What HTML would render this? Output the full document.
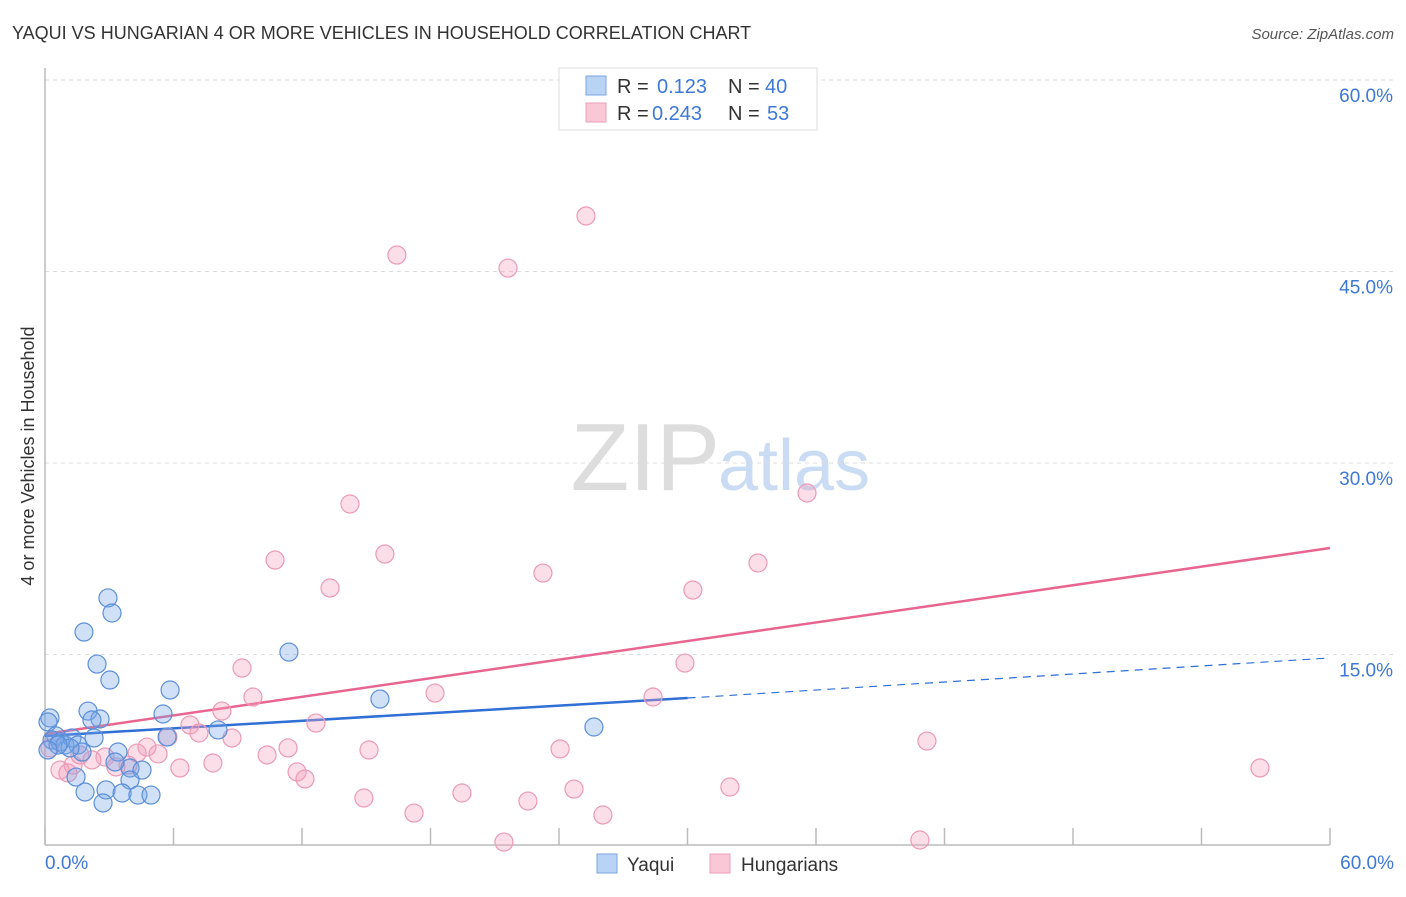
<!DOCTYPE html>
<html><head><meta charset="utf-8"><style>
body{margin:0;background:#fff;font-family:"Liberation Sans",sans-serif;}
svg text{font-family:"Liberation Sans",sans-serif;}
</style></head><body>
<svg id="chart" width="1406" height="892">
<text x="12" y="39" font-size="18" fill="#333">YAQUI VS HUNGARIAN 4 OR MORE VEHICLES IN HOUSEHOLD CORRELATION CHART</text>
<text x="1394" y="39" font-size="15" fill="#555" font-style="italic" text-anchor="end">Source: ZipAtlas.com</text>
<text x="720" y="490" font-size="96" fill="#ddd" text-anchor="end" font-family="Liberation Serif">ZIP</text>
<text x="718" y="490" font-size="72" fill="#c9dcf3">atlas</text>
<text transform="translate(34,456) rotate(-90)" font-size="18" fill="#333" text-anchor="middle">4 or more Vehicles in Household</text>
<g id="grid"></g><g id="axes"></g><g id="lines"></g><g id="points"></g>
<g>
<rect x="559" y="68" width="258" height="62" fill="#fff" stroke="#ddd"/>
<rect x="586" y="76" width="20" height="19" fill="#b9d3f5" stroke="#7aa5e0"/>
<rect x="586" y="103" width="20" height="19" fill="#f9c7d6" stroke="#ee9fb9"/>
<text x="617" y="93" font-size="20" fill="#333">R = </text><text x="657" y="93" font-size="20" fill="#3e78d6">0.123</text>
<text x="728" y="93" font-size="20" fill="#333">N = </text><text x="765" y="93" font-size="20" fill="#3e78d6">40</text>
<text x="617" y="120" font-size="20" fill="#333">R = </text><text x="652" y="120" font-size="20" fill="#3e78d6">0.243</text>
<text x="728" y="120" font-size="20" fill="#333">N = </text><text x="767" y="120" font-size="20" fill="#3e78d6">53</text>
</g>
<g>
<rect x="597" y="854" width="20" height="19" fill="#b9d3f5" stroke="#7aa5e0"/>
<text x="627" y="871" font-size="19" fill="#333">Yaqui</text>
<rect x="710" y="854" width="20" height="19" fill="#f9c7d6" stroke="#ee9fb9"/>
<text x="741" y="871" font-size="19" fill="#333">Hungarians</text>
</g>
</svg>
<script>
const yTicks=[15,30,45,60];
const xTickLabels=["0.0%","60.0%"];
const blueX=[2.94,3.13,1.82,2.43,3.03,11.39,5.84,15.64,5.51,2.01,2.57,2.19,0.23,0.14,8.08,25.63,0.51,0.33,0.70,0.93,1.26,1.54,2.29,5.70,1.73,1.17,3.41,3.97,4.53,3.27,1.45,1.87,2.85,3.97,3.60,4.34,4.95,2.71,0.61,0.14];
const blueY=[19.43,18.25,16.76,14.25,13.00,15.19,12.22,11.51,10.34,10.57,9.95,9.87,10.03,9.71,9.09,9.32,8.62,8.30,8.15,7.91,8.46,7.91,8.46,8.54,7.36,7.68,7.36,6.11,5.95,6.58,5.40,4.23,4.39,5.17,4.15,3.99,3.99,3.37,7.91,7.52];
const pinkX=[25.26,16.43,21.62,35.58,14.24,15.87,10.74,23.25,33.29,13.31,30.25,9.20,29.88,9.71,18.21,28.39,8.26,12.65,6.77,5.74,7.19,8.73,41.18,11.35,15.13,24.05,4.76,5.28,2.80,2.19,4.30,10.37,7.84,6.30,3.31,3.88,11.77,12.14,0.70,1.31,0.23,31.98,56.73,24.70,19.47,14.89,22.55,17.23,26.05,21.43,40.85,1.07,1.63];
const pinkY=[49.35,46.29,45.27,27.65,26.79,22.87,22.40,21.38,22.17,20.21,20.05,13.94,14.33,11.67,11.98,11.67,10.57,9.63,9.48,8.54,8.85,8.46,8.22,7.68,7.52,7.60,7.75,7.21,6.97,6.74,7.28,7.13,6.50,6.11,6.19,6.34,5.80,5.25,5.95,6.34,7.68,4.62,6.11,4.46,4.15,3.76,3.52,2.58,2.43,0.31,0.47,5.72,7.13];
const blueLine=[8.62,11.59,14.73];
const pinkLine=[8.77,23.34];
const NS="http://www.w3.org/2000/svg";
const X=v=>45+v/60*1285, Y=v=>846-v/15*191.5;
function mk(tag,attrs,parent){const e=document.createElementNS(NS,tag);for(const k in attrs)e.setAttribute(k,attrs[k]);document.getElementById(parent).appendChild(e);return e;}
yTicks.forEach(t=>{
 const l=mk('line',{x1:45,x2:1394,y1:Y(t),y2:Y(t),stroke:'#ddd','stroke-dasharray':'4,4'},'grid');
 
 
 const tx=mk('text',{x:1393,y:Y(t)+22,'font-size':19,fill:'#3e78d6','text-anchor':'end'},'grid');
 tx.textContent=t.toFixed(1)+'%';
 
 
});
mk('line',{x1:45,x2:45,y1:68,y2:845,stroke:'#bbb','stroke-width':1.5},'axes');
mk('line',{x1:45,x2:1330,y1:845,y2:845,stroke:'#bbb','stroke-width':1.5},'axes');
for(let i=0;i<=10;i++){const t=mk('line',{x1:X(i*6),x2:X(i*6),y1:828,y2:845,stroke:'#bbb','stroke-width':1.5},'axes');
 
 }
const xl0=mk('text',{x:45,y:869,'font-size':19,fill:'#3e78d6'},'axes');xl0.textContent=xTickLabels[0];


const xl1=mk('text',{x:1394,y:869,'font-size':19,fill:'#3e78d6','text-anchor':'end'},'axes');xl1.textContent=xTickLabels[1];


const bl=mk('line',{x1:X(0),y1:Y(blueLine[0]),x2:X(30),y2:Y(blueLine[1]),stroke:'#2f6fd6','stroke-width':2.5},'lines');


const bd=mk('line',{x1:X(30),y1:Y(blueLine[1]),x2:X(60),y2:Y(blueLine[2]),stroke:'#2f6fd6','stroke-width':1.2,'stroke-dasharray':'8,6'},'lines');


const pl=mk('line',{x1:X(0),y1:Y(pinkLine[0]),x2:X(60),y2:Y(pinkLine[1]),stroke:'#e8658f','stroke-width':2.5},'lines');


pinkX.forEach((v,i)=>{const c=mk('circle',{cx:X(v),cy:Y(pinkY[i]),r:9,fill:'rgba(244,160,188,0.35)',stroke:'#ec9ab5','stroke-width':1.2},'points');
 
 });
blueX.forEach((v,i)=>{const c=mk('circle',{cx:X(v),cy:Y(blueY[i]),r:9,fill:'rgba(120,165,230,0.35)',stroke:'#5b8fd9','stroke-width':1.2},'points');
 
 });
</script>
</body></html>
